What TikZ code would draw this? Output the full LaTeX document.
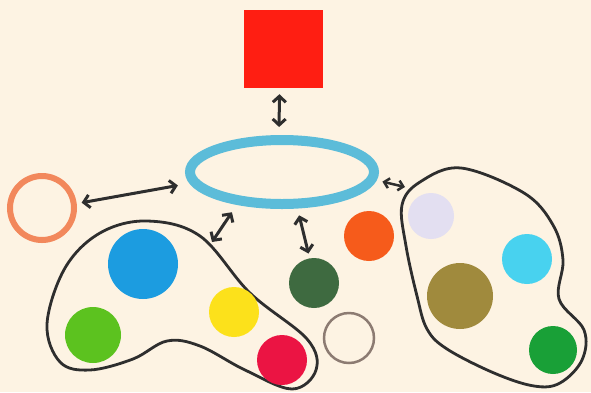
\documentclass[tikz,border=0pt]{standalone}
\usetikzlibrary{shapes.geometric,arrows.meta}
\definecolor{paper}{HTML}{FDF3E3}
\definecolor{ink}{HTML}{2E2E2E}
\definecolor{sqred}{HTML}{FF1E12}
\definecolor{ringblue}{HTML}{5CBCD9}
\definecolor{ringorange}{HTML}{F2885C}
\definecolor{ringtan}{HTML}{8C7B72}
\definecolor{dotblue}{HTML}{1C9CE0}
\definecolor{dotgreen}{HTML}{5CC21F}
\definecolor{dotyellow}{HTML}{FCE11B}
\definecolor{dotrose}{HTML}{EB1443}
\definecolor{dotforest}{HTML}{3E6A40}
\definecolor{dotorange}{HTML}{F65B1B}
\definecolor{dotlilac}{HTML}{E3DFF1}
\definecolor{dotcyan}{HTML}{48D2EF}
\definecolor{dotolive}{HTML}{A08A3D}
\definecolor{dotemerald}{HTML}{19A037}
\begin{document}
\begin{tikzpicture}[x=1pt,y=-1pt,>={Straight Barb[length=6pt,width=13pt]},
    link/.style={<->,line width=3pt,draw=ink},
    dot node/.style={circle,inner sep=0pt,outer sep=0pt},
    blob/.style={line width=2.8pt,draw=ink}]
    \fill[paper] (0,0) rectangle (591,392);
    \useasboundingbox (0,0) rectangle (591,392);
    % centre pieces
    \node[fill=sqred,minimum width=79pt,minimum height=78pt,inner sep=0pt] (square) at (283.5,49) {};
    \node[ellipse,draw=ringblue,line width=10pt,minimum width=184pt,minimum height=64pt,inner sep=0pt] (ring) at (282,172) {};
    \node[dot node,draw=ringorange,line width=6pt,minimum size=64pt] (orange ring) at (42,208) {};
    % left group
    \draw[blob] plot[smooth cycle,tension=0.6] coordinates {(147,221) (200,236) (250,293) (307,339) (316,370) (292,389) (245,370) (200,346) (167,341) (133,359) (90,370) (60,362) (47,324) (65,268) (100,233)};
    \node[dot node,fill=dotblue,minimum size=70pt] (blue) at (143,264) {};
    \node[dot node,fill=dotgreen,minimum size=56pt] (green) at (93,335) {};
    \node[dot node,fill=dotyellow,minimum size=50pt] (yellow) at (234,312) {};
    \node[dot node,fill=dotrose,minimum size=50pt] (rose) at (282,360) {};
    % middle
    \node[dot node,fill=dotforest,minimum size=50pt] (forest) at (314,283) {};
    \node[dot node,fill=dotorange,minimum size=50pt] (orange) at (369,236) {};
    \node[dot node,draw=ringtan,line width=2.5pt,minimum size=50pt] (tan ring) at (349,338) {};
    % right group
    \draw[blob] plot[smooth cycle,tension=0.6] coordinates {(461,168) (524,193) (553,225) (563,260) (559,299) (584,330) (582,360) (560,383) (534,386) (494,373) (447,349) (427,329) (417,296) (406,246) (402,205) (420,182)};
    \node[dot node,fill=dotlilac,minimum size=46pt] (lilac) at (431,216) {};
    \node[dot node,fill=dotcyan,minimum size=50pt] (cyan) at (527,259) {};
    \node[dot node,fill=dotolive,minimum size=66pt] (olive) at (460,296) {};
    \node[dot node,fill=dotemerald,minimum size=48pt] (emerald) at (553,350) {};
    \coordinate (left tip) at (212,242);
    \coordinate (right tip) at (405,187);
    % arrows
    \draw[link,shorten <=6pt,shorten >=8pt] ([xshift=-4pt]square.south) -- ([xshift=-3pt]ring.north);
    \draw[link,shorten <=8pt,shorten >=12pt] (orange ring.7) -- (ring.187);
    \draw[link,shorten <=9pt] (ring.216) -- (left tip);
    \draw[link,shorten <=7pt,shorten >=5pt] (ring.293) -- (forest.100);
    \draw[link,>={Straight Barb[length=5pt,width=10pt]},line width=2.5pt,shorten <=6pt] (ring.-5) -- (right tip);
\end{tikzpicture}
\end{document}
